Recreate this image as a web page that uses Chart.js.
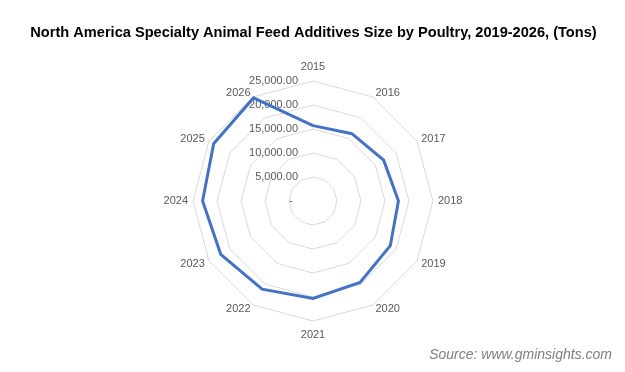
<!DOCTYPE html>
<html>
<head>
<meta charset="utf-8">
<script src="https://cdn.jsdelivr.net/npm/chart.js@4"></script>
<style>
  body { margin: 0; background: #fff; }
  canvas { display: block; }
</style>
</head>
<body>
<canvas id="chart" width="625" height="372"></canvas>
<script>
var years = ["2015", "2016", "2017", "2018", "2019", "2020", "2021", "2022", "2023", "2024", "2025", "2026"];
var poultry = [15700, 16200, 17000, 17800, 18600, 19600, 20300, 21200, 22200, 23000, 23900, 24800];
var tickLabels = ["-", "5,000.00", "10,000.00", "15,000.00", "20,000.00", "25,000.00"];

var labelColor = "#595959";
var labelFont = "11px 'Liberation Sans', Arial, sans-serif";

// excel-like tick and point labels
var radarLabels = {
    id: 'radarLabels',
    beforeDatasetsDraw: function(chart) {
        var r = chart.scales.r;
        var ctx = chart.ctx;
        ctx.save();
        ctx.font = labelFont;
        ctx.fillStyle = labelColor;
        ctx.textBaseline = 'middle';

        // tick labels, right aligned, left of the vertical axis
        ctx.textAlign = 'right';
        r.ticks.forEach(function(t, i) {
            var y = r.yCenter - r.getDistanceFromCenterForValue(t.value);
            var x = r.xCenter - 15;
            if (i === 0) x -= 5;
            ctx.fillText(tickLabels[i], x, y);
        });

        // category labels round the outside
        years.forEach(function(lab, i) {
            var p = r.getPointPosition(i, r.drawingArea + 5);
            var deg = Math.round(i * 360 / years.length);
            var y = p.y;
            if (deg === 0 || deg === 180) {
                ctx.textAlign = 'center';
                y += (deg === 0 ? -9 : 9);
            } else if (deg < 180) {
                ctx.textAlign = 'left';
            } else {
                ctx.textAlign = 'right';
            }
            ctx.fillText(lab, p.x, y);
        });
        ctx.restore();
    }
};

var ctx = document.getElementById("chart");
var chart = new Chart(ctx, {
    type: 'radar',
    data: {
        labels: years,
        datasets: [{
            label: "Poultry",
            data: poultry,
            borderColor: "#4472C4",
            backgroundColor: "rgba(0,0,0,0)",
            borderWidth: 3,
            pointRadius: 0,
            pointHoverRadius: 0,
            tension: 0,
            fill: false
        }]
    },
    options: {
        responsive: false,
        animation: false,
        devicePixelRatio: 1,
        layout: {
            autoPadding: false,
            padding: { left: 15, right: 13, top: 0, bottom: 0 }
        },
        plugins: {
            legend: { display: false },
            tooltip: { enabled: false },
            title: {
                display: true,
                text: "North America Specialty Animal Feed Additives Size by Poultry, 2019-2026, (Tons)",
                color: "#000",
                font: { family: "'Liberation Sans', Arial, sans-serif", size: 14.6, weight: 'bold', lineHeight: 1.2 },
                padding: { top: 24.7, bottom: 37.8 }
            },
            subtitle: {
                display: true,
                position: 'bottom',
                align: 'end',
                text: "Source: www.gminsights.com",
                color: "#7f7f7f",
                font: { family: "'Liberation Sans', Arial, sans-serif", size: 14, style: 'italic', lineHeight: 1.2 },
                padding: { top: 25.2, bottom: 8 }
            }
        },
        scales: {
            r: {
                min: 0,
                max: 25000,
                startAngle: 0,
                ticks: {
                    stepSize: 5000,
                    display: false
                },
                grid: {
                    circular: false,
                    color: "#d9d9d9",
                    lineWidth: 1
                },
                angleLines: { display: false },
                pointLabels: { display: false }
            }
        }
    },
    plugins: [radarLabels]
});
</script>
</body>
</html>
